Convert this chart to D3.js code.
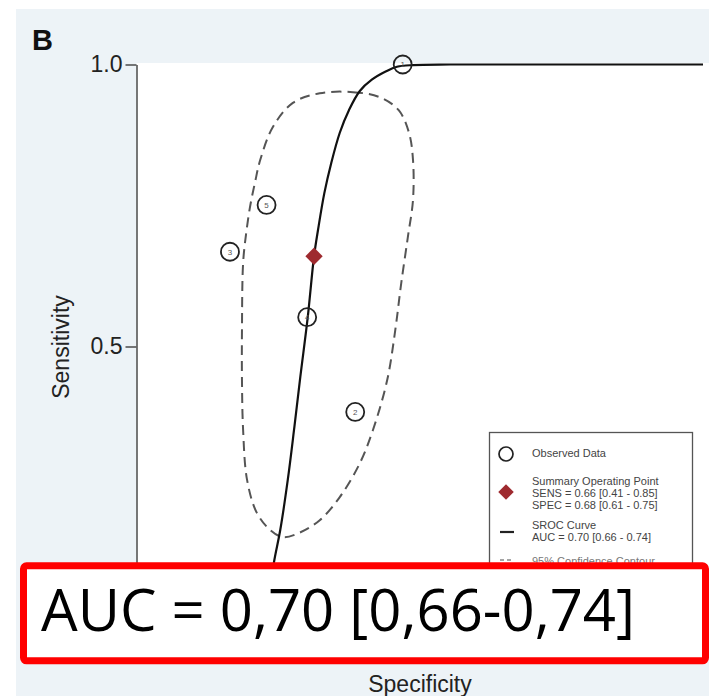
<!DOCTYPE html>
<html>
<head>
<meta charset="utf-8">
<script src="https://cdn.jsdelivr.net/npm/d3@7"></script>
<style>
  html, body { margin: 0; padding: 0; background: #ffffff; }
  svg { display: block; }
</style>
</head>
<body>
<svg id="chart" width="709" height="696"></svg>
<script>
// Observed studies: specificity / sensitivity
const studyIds   = ["1", "2", "3", "4", "5"];
const studySpec  = [0.525, 0.608, 0.827, 0.692, 0.763];
const studySens  = [1.000, 0.384, 0.668, 0.552, 0.751];

// Summary operating point
const summarySpec = 0.68;
const summarySens = 0.66;

// SROC curve (specificity, sensitivity)
const srocSpec = [0.000, 0.250, 0.442, 0.507, 0.535, 0.554, 0.579, 0.600, 0.619, 0.635, 0.650, 0.662, 0.673, 0.680, 0.691, 0.704, 0.715, 0.726, 0.739, 0.750, 0.760, 0.769];
const srocSens = [1.000, 1.000, 1.000, 0.999, 0.996, 0.988, 0.973, 0.953, 0.919, 0.879, 0.825, 0.772, 0.707, 0.660, 0.552, 0.446, 0.352, 0.263, 0.175, 0.118, 0.051, 0.000];

// 95% confidence contour around the summary point
const contourSpec = [0.670, 0.612, 0.565, 0.532, 0.514, 0.507, 0.507, 0.516, 0.528, 0.538, 0.552, 0.577, 0.600, 0.635, 0.670, 0.705, 0.734, 0.757, 0.780, 0.797, 0.804, 0.806, 0.806, 0.804, 0.799, 0.792, 0.783, 0.774, 0.752, 0.717];
const contourSens = [0.949, 0.951, 0.942, 0.919, 0.879, 0.831, 0.760, 0.694, 0.609, 0.529, 0.441, 0.352, 0.293, 0.233, 0.192, 0.170, 0.162, 0.175, 0.205, 0.263, 0.352, 0.441, 0.529, 0.648, 0.698, 0.747, 0.792, 0.831, 0.889, 0.932];

// Axis ticks
const yTicks = [0.5, 1.0];
const xTicks = [1.0, 0.5, 0.0];

// Legend text
const legendLines = {
  observed: ["Observed Data"],
  summary: ["Summary Operating Point", "SENS = 0.66 [0.41 - 0.85]", "SPEC = 0.68 [0.61 - 0.75]"],
  sroc: ["SROC Curve", "AUC = 0.70 [0.66 - 0.74]"],
  contour: ["95% Confidence Contour"]
};

const panelLetter = "B";
const aucBanner = "AUC = 0,70 [0,66-0,74]";

const svg = d3.select("#chart");
const W = 709, H = 696;
const sans = "'Liberation Sans', Arial, Helvetica, sans-serif";

// Scales: specificity runs from 1 (left) to 0 (right)
const x = d3.scaleLinear().domain([1, 0]).range([131, 703]);
const y = d3.scaleLinear().domain([0, 1]).range([628.5, 64.5]);

// Backgrounds
svg.append("rect").attr("x", 0).attr("y", 0).attr("width", W).attr("height", H).attr("fill", "#ffffff");
svg.append("rect").attr("x", 16).attr("y", 9).attr("width", W - 16).attr("height", H - 9).attr("fill", "#edf3f7");
svg.append("rect").attr("x", 136.5).attr("y", 63).attr("width", W - 136.5).attr("height", 580).attr("fill", "#ffffff");

// Panel letter
svg.append("text").attr("x", 32).attr("y", 50)
  .attr("font-family", sans).attr("font-weight", "bold").attr("font-size", 29)
  .attr("fill", "#111").text(panelLetter);

// Y axis
const yAxis = svg.append("g").attr("transform", "translate(136.5,0)")
  .call(d3.axisLeft(y).tickValues(yTicks).tickFormat(d3.format(".1f")).tickSize(11).tickSizeOuter(0).tickPadding(3));
yAxis.select(".domain").attr("stroke", "#555").attr("stroke-width", 1.6);
yAxis.selectAll(".tick line").attr("stroke", "#555").attr("stroke-width", 1.6);
yAxis.selectAll(".tick text").attr("font-family", sans).attr("font-size", 23).attr("fill", "#222");

// X axis (lies beneath the AUC banner)
const xAxis = svg.append("g").attr("transform", `translate(0,${y(0)})`)
  .call(d3.axisBottom(x).tickValues(xTicks).tickFormat("").tickSize(11).tickSizeOuter(0));
xAxis.select(".domain").attr("stroke", "#555").attr("stroke-width", 1.6);
xAxis.selectAll(".tick line").attr("stroke", "#555").attr("stroke-width", 1.6);

// Axis titles
svg.append("text").attr("transform", "translate(69,347) rotate(-90)")
  .attr("text-anchor", "middle").attr("font-family", sans).attr("font-size", 23)
  .attr("fill", "#222").text("Sensitivity");
svg.append("text").attr("x", 420).attr("y", 692)
  .attr("text-anchor", "middle").attr("font-family", sans).attr("font-size", 23)
  .attr("fill", "#222").text("Specificity");

// Confidence contour
const contour = contourSpec.map((s, i) => [x(s), y(contourSens[i])]);
svg.append("path")
  .attr("d", d3.line().curve(d3.curveCatmullRomClosed.alpha(0.5))(contour))
  .attr("fill", "none").attr("stroke", "#555").attr("stroke-width", 2)
  .attr("stroke-dasharray", "10,6");

// SROC curve
const sroc = srocSpec.map((s, i) => [x(s), y(srocSens[i])]);
svg.append("path")
  .attr("d", d3.line().curve(d3.curveCatmullRom.alpha(0.5))(sroc))
  .attr("fill", "none").attr("stroke", "#111").attr("stroke-width", 2.2);

// Observed studies
const studies = svg.append("g").selectAll("g").data(studyIds).join("g")
  .attr("transform", (d, i) => `translate(${x(studySpec[i])},${y(studySens[i])})`);
studies.append("circle").attr("r", 9).attr("fill", "none").attr("stroke", "#222").attr("stroke-width", 1.8);
studies.append("text").attr("text-anchor", "middle").attr("dy", "0.35em")
  .attr("font-family", sans).attr("font-size", 8).attr("fill", "#555").text(d => d);

// Summary operating point
svg.append("path")
  .attr("d", d3.symbol().type(d3.symbolSquare).size(150)())
  .attr("transform", `translate(${x(summarySpec)},${y(summarySens)}) rotate(45)`)
  .attr("fill", "#9e2a2f");

// Legend
const lg = svg.append("g");
lg.append("rect").attr("x", 489.5).attr("y", 432.5).attr("width", 203).attr("height", 200)
  .attr("fill", "#ffffff").attr("stroke", "#555").attr("stroke-width", 1.3);
const lx = 506, tx = 532, lfont = 11, lcol = "#444";
lg.append("circle").attr("cx", lx).attr("cy", 454).attr("r", 7).attr("fill", "none").attr("stroke", "#222").attr("stroke-width", 1.7);
lg.append("path").attr("d", d3.symbol().type(d3.symbolSquare).size(120)())
  .attr("transform", `translate(${lx},492) rotate(45)`).attr("fill", "#9e2a2f");
lg.append("line").attr("x1", lx - 6).attr("x2", lx + 8).attr("y1", 532).attr("y2", 532)
  .attr("stroke", "#222").attr("stroke-width", 2.2);
lg.append("line").attr("x1", lx - 6).attr("x2", lx + 8).attr("y1", 560).attr("y2", 560)
  .attr("stroke", "#888").attr("stroke-width", 1.5).attr("stroke-dasharray", "4,3");
const legendText = [
  [legendLines.observed, 457, lcol],
  [legendLines.summary, 485, lcol],
  [legendLines.sroc, 529, lcol],
  [legendLines.contour, 565, "#777"]
];
legendText.forEach(([lines, y0, col]) => {
  lines.forEach((t, k) => {
    lg.append("text").attr("x", tx).attr("y", y0 + k * 12)
      .attr("font-family", sans).attr("font-size", lfont).attr("fill", col).text(t);
  });
});

// AUC banner
svg.append("rect").attr("x", 23.5).attr("y", 565.8).attr("width", 682).attr("height", 95)
  .attr("rx", 3).attr("fill", "#ffffff").attr("stroke", "#ff0000").attr("stroke-width", 7);
svg.append("text").attr("x", 41).attr("y", 631)
  .attr("font-family", "'Open Sans', 'Noto Sans', sans-serif").attr("font-size", 58)
  .attr("fill", "#000").text(aucBanner);
</script>
</body>
</html>
